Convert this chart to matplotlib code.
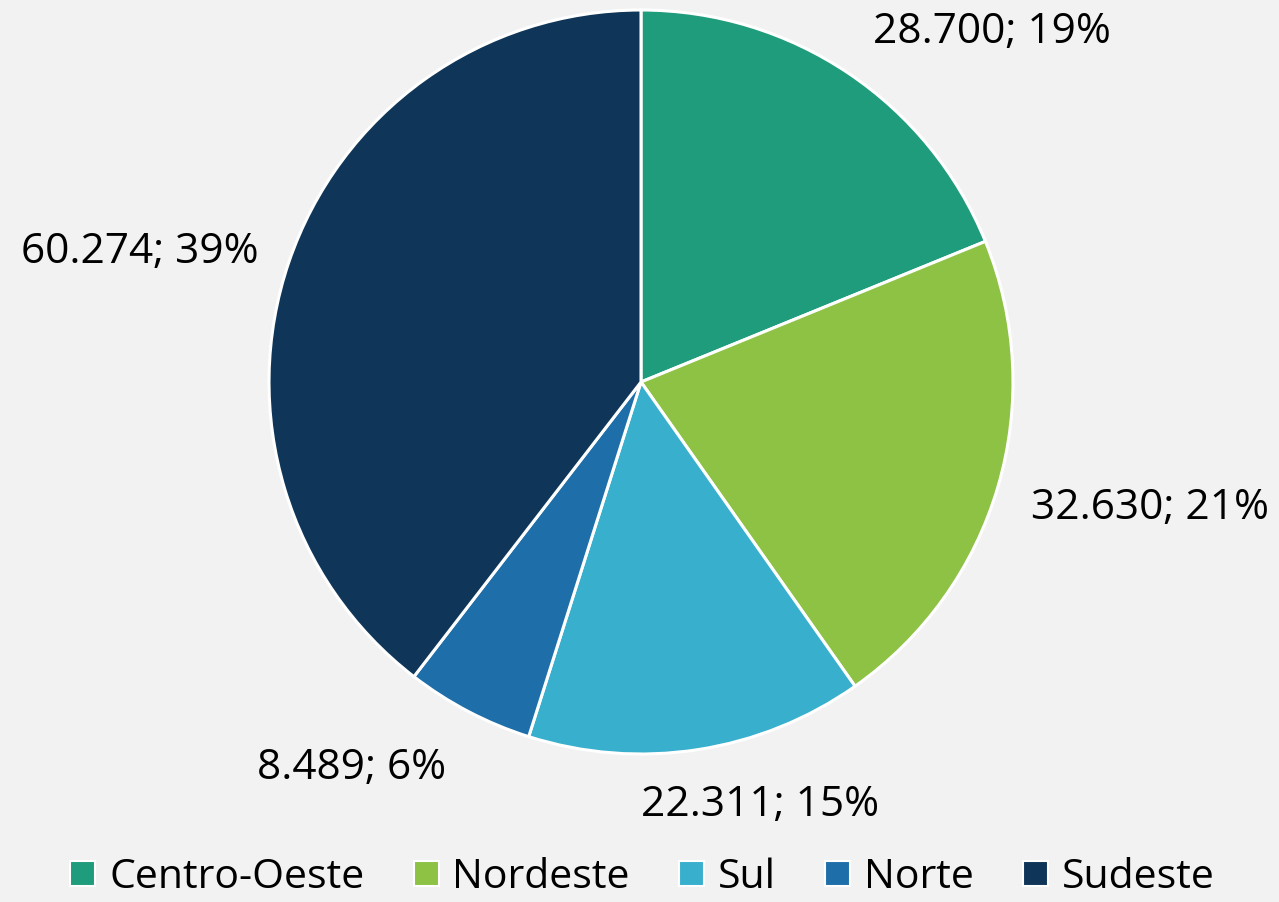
import numpy as np
import matplotlib
matplotlib.use("Agg")
import matplotlib.pyplot as plt
from matplotlib.lines import Line2D

regions = ["Centro-Oeste", "Nordeste", "Sul", "Norte", "Sudeste"]
values = [28700, 32630, 22311, 8489, 60274]
percents = [19, 21, 15, 6, 39]  # as printed on the chart
colors = ["#1f9c7b", "#8dc245", "#38afcd", "#1e6fa9", "#0f3658"]

# label anchor positions relative to pie centre, in units of radius
label_pos = [(0.944, 0.941), (1.368, -0.339), (0.320, -1.137),
             (-0.777, -1.038), (-1.347, 0.349)]

plt.rcParams["font.family"] = ["Open Sans", "DejaVu Sans"]

W, H = 1279, 902
cx, cy, r = 641, 382, 372
fig = plt.figure(figsize=(W / 100, H / 100), dpi=100, facecolor="#f2f2f2")
ax = fig.add_axes([0, 0, 1, 1])
ax.set_facecolor("#f2f2f2")

wedges, _ = ax.pie(values, colors=colors, startangle=90, counterclock=False,
                   radius=1.0, wedgeprops=dict(edgecolor="white", linewidth=2.2))

# pie() forces equal aspect and its own limits; map 1 unit to r pixels instead
ax.set_aspect("auto")
ax.set_xlim(-cx / r, (W - cx) / r)
ax.set_ylim(-(H - cy) / r, cy / r)
ax.axis("off")

for v, p, (lx, ly) in zip(values, percents, label_pos):
    txt = f"{v:,}".replace(",", ".") + f"; {p}%"
    ax.text(lx, ly, txt, ha="center", va="center", fontsize=30.5, color="black")

handles = [Line2D([], [], marker="s", linestyle="none", markersize=18,
                  markerfacecolor=c, markeredgecolor="white", markeredgewidth=1.5)
           for c in colors]
fig.legend(handles, regions, loc="lower center", ncol=5, frameon=False,
           bbox_to_anchor=(0.5, -0.036), fontsize=29.5, handletextpad=0.2,
           columnspacing=1.05, handlelength=0.9)

fig.savefig("out.png", dpi=100, facecolor=fig.get_facecolor())
